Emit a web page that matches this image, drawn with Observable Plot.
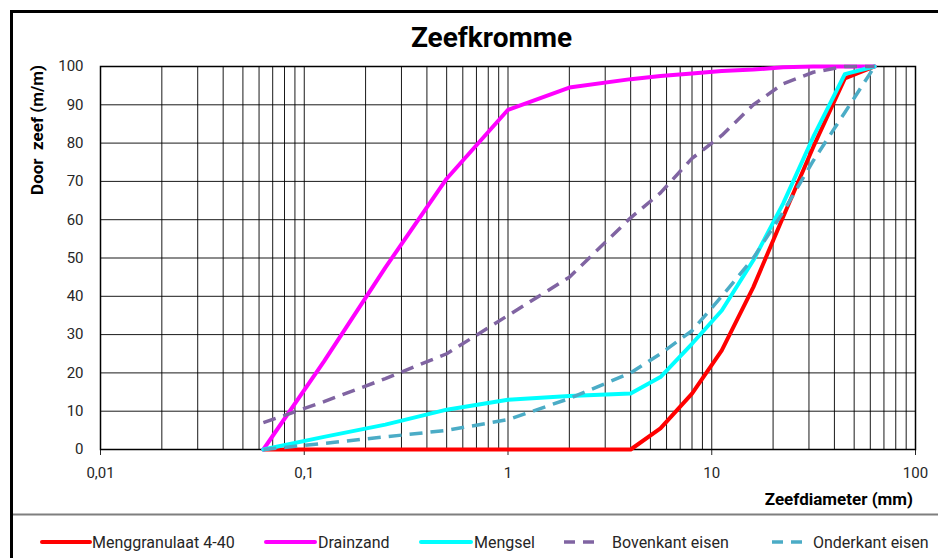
<!DOCTYPE html>
<html>
<head>
<meta charset="utf-8">
<script src="https://cdn.jsdelivr.net/npm/d3@7"></script>
<script src="https://cdn.jsdelivr.net/npm/@observablehq/plot@0.6"></script>
<style>
html, body { margin: 0; padding: 0; background: #fff; }
#chart { position: relative; width: 938px; height: 558px; overflow: hidden; }
</style>
</head>
<body>
<div id="chart"></div>
<script>
// ---- data ----
const titleText = "Zeefkromme";
const xLabelText = "Zeefdiameter (mm)";
const yLabelText = "Door  zeef (m/m)";

const sieveSizes    = [0.063, 0.125, 0.25, 0.5, 1, 2, 4, 5.6, 8, 11.2, 16, 22.4, 31.5, 45, 63];
const menggranulaat = [0, 0, 0, 0, 0, 0, 0, 5.5, 14.6, 25.9, 42.4, 60.7, 79, 96.9, 100];
const drainzand     = [0, 23, 47.5, 70.7, 88.7, 94.5, 96.7, 97.5, 98.2, 98.8, 99.2, 99.8, 100, 100, 100];
const mengsel       = [0, 3.3, 6.5, 10.4, 13, 14, 14.6, 18.9, 27.6, 36.3, 49.4, 64.2, 81.6, 98, 100];
const bovenkant     = [7, 12.5, 18.5, 25, 35, 45, 60.5, 67, 76, 82, 90, 95.5, 98.5, 100, 100];
const onderkant     = [0, 1.6, 3.3, 5, 7.8, 13.3, 20, 25, 31, 40, 50, 62, 75.4, 88, 100];

const seriesNames  = ["Menggranulaat 4-40", "Drainzand", "Mengsel", "Bovenkant eisen", "Onderkant eisen"];
const seriesColors = ["#FF0000", "#FF00FF", "#00FFFF", "#8064A2", "#4BACC6"];
const seriesDashed = [false, false, false, true, true];

const xTickValues = [0.01, 0.1, 1, 10, 100];
const xTickLabels = ["0,01", "0,1", "1", "10", "100"];
const yTickValues = [0, 10, 20, 30, 40, 50, 60, 70, 80, 90, 100];

// ---- build tables ----
const seriesValues = [menggranulaat, drainzand, mengsel, bovenkant, onderkant];
const seriesRows = seriesValues.map(vals => sieveSizes.map((d, i) => ({d, p: vals[i]})));
const gridX = d3.range(-2, 2).flatMap(k => d3.range(1, 10).map(m => m * Math.pow(10, k))).concat([100]);

const lineMarks = seriesRows.map((rows, i) => Plot.line(rows, {
  x: "d", y: "p",
  stroke: seriesColors[i],
  strokeWidth: seriesDashed[i] ? 3.5 : 4,
  strokeDasharray: seriesDashed[i] ? "13,8" : null,
  strokeLinejoin: "round",
  strokeLinecap: seriesDashed[i] ? "butt" : "round"
}));

const chart = Plot.plot({
  width: 938,
  height: 558,
  marginLeft: 100,
  marginRight: 23,
  marginTop: 66,
  marginBottom: 109,
  style: {fontFamily: "Roboto, 'Open Sans', sans-serif", fontSize: "15px", color: "#262626", background: "white", overflow: "hidden"},
  x: {
    type: "log",
    domain: [0.01, 100],
    ticks: xTickValues,
    tickFormat: d => xTickLabels[xTickValues.findIndex(v => Math.abs(v - d) < 1e-9)],
    tickSize: 6,
    tickPadding: 12,
    label: null
  },
  y: {
    domain: [0, 100],
    ticks: yTickValues,
    tickSize: 0,
    tickPadding: 17,
    label: null
  },
  marks: [
    Plot.ruleX(gridX, {stroke: "#000", strokeWidth: 1, strokeOpacity: 0.9}),
    Plot.ruleY(yTickValues, {stroke: "#000", strokeWidth: 1, strokeOpacity: 0.9}),
    Plot.frame({stroke: "#000", strokeWidth: 1.5}),
    ...lineMarks
  ]
});

document.getElementById("chart").appendChild(chart);

// ---- decorations: outer frame, titles, legend ----
const svg = d3.select(chart);
svg.insert("rect", ":first-child")
  .attr("x", 11.5).attr("y", 11.5).attr("width", 1000).attr("height", 1000)
  .attr("fill", "none").attr("stroke", "#000").attr("stroke-width", 3);
svg.append("line")
  .attr("x1", 13).attr("x2", 938).attr("y1", 514.5).attr("y2", 514.5)
  .attr("stroke", "#7f7f7f").attr("stroke-width", 2);

svg.append("text")
  .attr("x", 491.5).attr("y", 47)
  .attr("text-anchor", "middle")
  .style("font", "bold 28px Roboto, sans-serif")
  .attr("fill", "#000")
  .text(titleText);

svg.append("text")
  .attr("transform", "translate(43,130) rotate(-90)")
  .attr("text-anchor", "middle")
  .style("font", "bold 17px Roboto, sans-serif")
  .style("white-space", "pre")
  .attr("fill", "#000")
  .text(yLabelText);

svg.append("text")
  .attr("x", 913).attr("y", 505)
  .attr("text-anchor", "end")
  .style("font", "bold 17px Roboto, sans-serif")
  .attr("fill", "#000")
  .text(xLabelText);

const legendSwatch = [[42, 90], [266, 315], [421, 471], [564, 594], [772, 802]];
const legendTextX = [92, 318, 474, 612, 813];
const legendY = 542;
const lg = svg.append("g").attr("text-anchor", "start");
seriesNames.forEach((name, i) => {
  lg.append("line")
    .attr("x1", legendSwatch[i][0]).attr("x2", legendSwatch[i][1])
    .attr("y1", legendY).attr("y2", legendY)
    .attr("stroke", seriesColors[i])
    .attr("stroke-width", seriesDashed[i] ? 3.5 : 4)
    .attr("stroke-dasharray", seriesDashed[i] ? "11,8" : null)
    .attr("stroke-linecap", seriesDashed[i] ? "butt" : "round");
  lg.append("text")
    .attr("x", legendTextX[i]).attr("y", legendY).attr("dy", "0.35em")
    .attr("text-anchor", "start")
    .style("font", "16px Roboto, sans-serif")
    .attr("fill", "#262626")
    .text(name);
});
</script>
</body>
</html>
